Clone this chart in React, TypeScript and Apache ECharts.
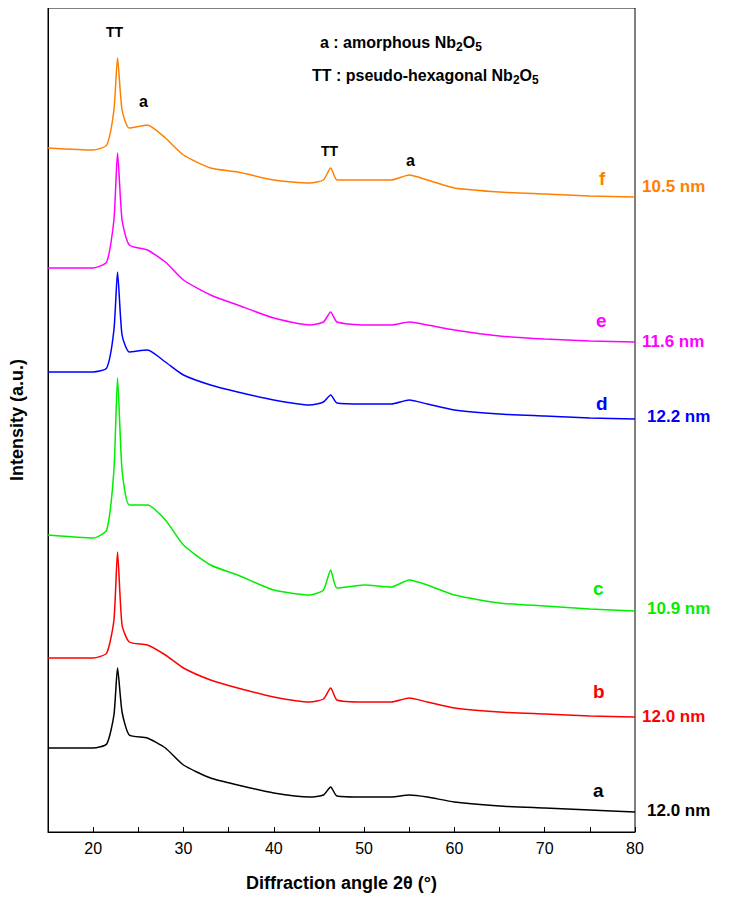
import React, { useEffect, useRef } from "react";
import * as echarts from "echarts";

const angles = [15, 20, 21.5, 22.3, 22.7, 23.2, 24, 26, 28, 30, 33, 36, 40, 44, 45.5, 46.3, 47, 50, 53, 55, 57, 60, 65, 70, 75, 80];
// pixel-read positions (from plot bottom = 832)
const fPix = [148, 150, 145, 110, 58, 110, 128, 125, 138, 155, 168, 172, 180, 183, 180, 168, 180, 180, 180, 175, 180, 188, 192, 194, 196, 197];
const ePix = [268, 268, 262, 220, 153, 220, 245, 250, 262, 280, 295, 305, 318, 325, 322, 312, 322, 325, 325, 322, 325, 330, 336, 339, 341, 342];
const dPix = [372, 372, 368, 330, 272, 335, 352, 350, 362, 375, 385, 392, 400, 405, 402, 395, 403, 404, 404, 400, 404, 410, 414, 416, 418, 419];
const cPix = [535, 538, 530, 470, 378, 470, 505, 505, 520, 545, 565, 575, 590, 595, 590, 570, 588, 585, 587, 580, 585, 595, 603, 606, 609, 611];
const bPix = [658, 658, 653, 620, 552, 625, 642, 645, 655, 668, 680, 688, 697, 702, 699, 688, 700, 702, 702, 698, 702, 708, 712, 714, 716, 717];
const aPix = [748, 748, 744, 715, 668, 712, 735, 738, 748, 765, 778, 785, 793, 797, 795, 787, 796, 797, 797, 795, 797, 802, 806, 808, 810, 812];

const seriesNames = ["a", "b", "c", "d", "e", "f"];
const seriesColors = ["#000000", "#ff0000", "#00ee00", "#0000ff", "#ff00ff", "#ff8000"];
const sizeLabels = ["12.0 nm", "12.0 nm", "10.9 nm", "12.2 nm", "11.6 nm", "10.5 nm"];
const allPix = [aPix, bPix, cPix, dPix, ePix, fPix];

const letterPos = [[601, 792], [601, 693], [601, 590], [604, 405], [604, 322], [607, 180]];
const sizePos = [[655, 812], [650, 718], [655, 610], [655, 418], [650, 343], [650, 188]];

export default function App() {
  const ref = useRef<HTMLDivElement>(null);
  useEffect(() => {
    const chart = echarts.init(ref.current!, null, { renderer: "svg" });
    const font = "Liberation Sans";
    const graphics: any[] = [];
    seriesNames.forEach((n, i) => {
      graphics.push({ type: "text", left: letterPos[i][0] - 8, top: letterPos[i][1] - 11, style: { text: n, fill: seriesColors[i], font: `bold 19px ${font}` } });
      graphics.push({ type: "text", left: sizePos[i][0] - 8, top: sizePos[i][1] - 10, style: { text: sizeLabels[i], fill: i === 0 ? "#000" : seriesColors[i], font: `bold 17px ${font}` } });
    });
    graphics.push({ type: "text", left: 106, top: 25, style: { text: "TT", fill: "#000", font: `bold 14px ${font}` } });
    graphics.push({ type: "text", left: 139, top: 93, style: { text: "a", fill: "#000", font: `bold 16px ${font}` } });
    graphics.push({ type: "text", left: 321, top: 144, style: { text: "TT", fill: "#000", font: `bold 14px ${font}` } });
    graphics.push({ type: "text", left: 406, top: 152, style: { text: "a", fill: "#000", font: `bold 16px ${font}` } });
    const rich = { n: { fontFamily: font, fontWeight: "bold", fontSize: 16, fill: "#000" }, s: { fontFamily: font, fontWeight: "bold", fontSize: 12, verticalAlign: "bottom", padding: [9, 0, 0, 0] } };
    graphics.push({ type: "text", left: 320, top: 34, style: { text: "{n|a : amorphous Nb}{s|2}{n|O}{s|5}", rich, font: `bold 16px ${font}` } });
    graphics.push({ type: "text", left: 312, top: 67, style: { text: "{n|TT : pseudo-hexagonal Nb}{s|2}{n|O}{s|5}", rich, font: `bold 16px ${font}` } });

    chart.setOption({
      animation: false,
      grid: { left: 47, right: 102, top: 8, bottom: 73, show: true, borderColor: "#000", borderWidth: 1 },
      xAxis: {
        type: "value", min: 15, max: 80, interval: 5,
        name: "Diffraction angle 2θ (°)", nameLocation: "middle", nameGap: 42,
        nameTextStyle: { fontFamily: font, fontWeight: "bold", fontSize: 18, color: "#000" },
        axisLine: { lineStyle: { color: "#000" } },
        axisTick: { inside: true, length: 5, lineStyle: { color: "#000" } },
        axisLabel: { fontFamily: font, fontSize: 16, color: "#000", formatter: (v: number) => (v % 10 === 0 && v > 15 ? String(v) : "") },
        splitLine: { show: false },
      },
      yAxis: {
        type: "value", min: 0, max: 824,
        name: "Intensity (a.u.)", nameLocation: "middle", nameGap: 22,
        nameTextStyle: { fontFamily: font, fontWeight: "bold", fontSize: 18, color: "#000" },
        axisLine: { show: true, lineStyle: { color: "#000" } },
        axisTick: { show: false }, axisLabel: { show: false }, splitLine: { show: false },
      },
      series: allPix.map((p, i) => ({
        type: "line", name: seriesNames[i], showSymbol: false, smooth: 0.2,
        lineStyle: { color: seriesColors[i], width: 1.5 },
        data: angles.map((a, j) => [a, 832 - p[j]]),
      })),
      graphic: graphics,
    });
    return () => chart.dispose();
  }, []);
  return <div ref={ref} style={{ width: 737, height: 905, margin: -8 }} />;
}
